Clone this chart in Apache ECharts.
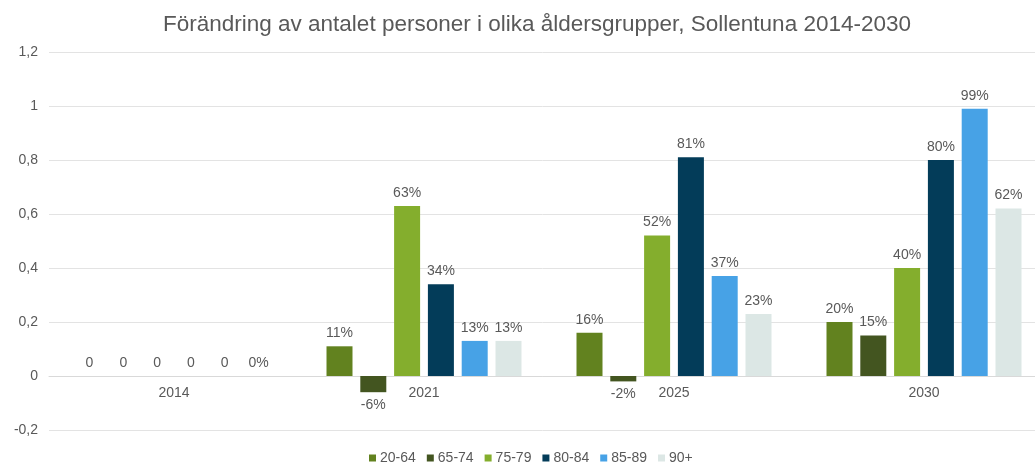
<!DOCTYPE html>
<html>

<head>
    <meta charset="utf-8">
    <title>ECharts</title>
    <script src="https://cdn.jsdelivr.net/npm/echarts@6/dist/echarts.min.js"></script>
</head>

<body style="margin:0">
    <div id="main" style="width: 1035px;height:463px;"></div>
</body>
<script type="text/javascript">
    // categories and series values
    var years = ['2014', '2021', '2025', '2030'];
    var groups = ['20-64', '65-74', '75-79', '80-84', '85-89', '90+'];
    var colors = ['#62821f', '#435520', '#84ae2d', '#033c59', '#47a2e6', '#dce7e5'];
    var values = [
        [0, 0.11, 0.16, 0.20],
        [0, -0.06, -0.02, 0.15],
        [0, 0.63, 0.52, 0.40],
        [0, 0.34, 0.81, 0.80],
        [0, 0.13, 0.37, 0.99],
        [0, 0.13, 0.23, 0.62]
    ];

    var textColor = '#595959';

    var series = groups.map(function(name, i) {
        return {
            name: name,
            type: 'bar',
            barWidth: 26,
            barGap: '30%',
            itemStyle: { color: colors[i] },
            label: {
                show: true,
                position: 'top',
                color: textColor,
                fontSize: 14,
                distance: 6,
                formatter: function(p) {
                    // only the last series shows 0 as a percent in 2014
                    if (p.value === 0 && i < groups.length - 1) return '0';
                    return Math.round(p.value * 100) + '%';
                }
            },
            data: values[i].map(function(v) {
                if (v < 0) return { value: v, label: { position: 'bottom' } };
                return v;
            })
        };
    });

    var chart = echarts.init(document.getElementById('main'));
    chart.setOption({
        backgroundColor: '#fff',
        animation: false,
        textStyle: { fontFamily: 'Liberation Sans' },
        title: {
            text: 'Förändring av antalet personer i olika åldersgrupper, Sollentuna 2014-2030',
            left: 532,
            textAlign: 'center',
            top: 8,
            textStyle: {
                color: textColor,
                fontSize: 22.5,
                fontWeight: 'normal',
                fontFamily: 'Liberation Sans'
            }
        },
        legend: {
            top: 446,
            left: 364,
            itemWidth: 7,
            itemHeight: 7,
            itemGap: 11,
            icon: 'rect',
            textStyle: { color: textColor, fontSize: 14, fontFamily: 'Liberation Sans', padding: [0, 0, 0, -1] },
            data: groups
        },
        grid: {
            left: 49,
            width: 1000,
            top: 52,
            bottom: 33,
            outerBoundsMode: 'none'
        },
        xAxis: {
            type: 'category',
            data: years,
            offset: -54, // sit the axis on the zero line
            axisTick: { show: false },
            axisLine: { onZero: false, lineStyle: { color: '#d9d9d9' } },
            axisLabel: { color: textColor, fontSize: 14, margin: 10, fontFamily: 'Liberation Sans' }
        },
        yAxis: {
            type: 'value',
            min: -0.2,
            max: 1.2,
            interval: 0.2,
            splitLine: { lineStyle: { color: '#e3e3e3' } },
            axisLabel: {
                color: textColor,
                fontSize: 14,
                margin: 11,
                fontFamily: 'Liberation Sans',
                formatter: function(v) {
                    return String(Math.round(v * 10) / 10).replace('.', ',');
                }
            }
        },
        series: series
    })
</script>


</html>
